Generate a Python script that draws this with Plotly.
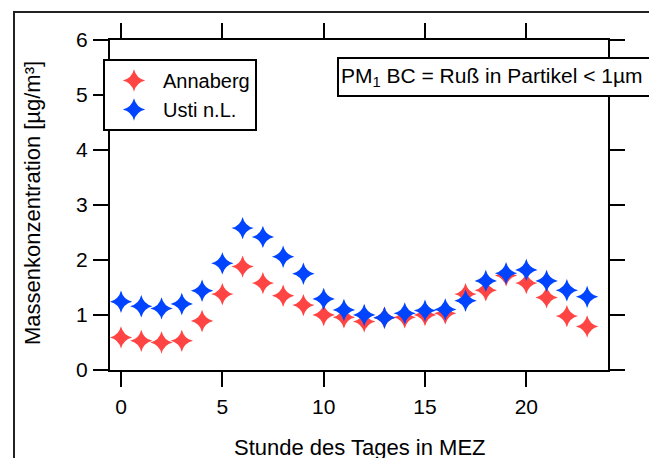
import plotly.graph_objects as go

hours = list(range(24))
annaberg = [0.59, 0.53, 0.50, 0.53, 0.89, 1.38, 1.88, 1.58, 1.35, 1.18, 1.00, 0.96,
            0.88, 0.95, 0.96, 1.00, 1.03, 1.38, 1.45, 1.72, 1.58, 1.32, 0.98, 0.79]
usti = [1.24, 1.16, 1.12, 1.20, 1.44, 1.94, 2.58, 2.42, 2.06, 1.75, 1.29, 1.09,
        1.00, 0.95, 1.03, 1.08, 1.10, 1.26, 1.62, 1.76, 1.82, 1.62, 1.45, 1.33]
x_ticks = [0, 5, 10, 15, 20]
y_ticks = [0, 1, 2, 3, 4, 5, 6]

# page body has an 8px margin; compensate so the figure fits the 657x458 window
OFF = 8
W, H = 657 - OFF, 458 - OFF
L, R, T, B = 110 - OFF, 49, 40 - OFF, 88
pw, ph = W - L - R, H - T - B

def px(xs):
    return (xs - OFF - L) / pw

def py(ys):
    return (H - B - (ys - OFF)) / ph

FONT = "Liberation Sans, Arial, sans-serif"

fig = go.Figure()
fig.add_trace(go.Scatter(x=hours, y=annaberg, mode="markers", name="Annaberg",
                         marker=dict(symbol="star-diamond", size=16, color="#FF4444")))
fig.add_trace(go.Scatter(x=hours, y=usti, mode="markers", name="Usti n.L.",
                         marker=dict(symbol="star-diamond", size=16, color="#0044FF")))

axis_common = dict(showgrid=False, zeroline=False, showline=True, linecolor="black",
                   linewidth=2, ticks="outside", ticklen=15, tickwidth=2,
                   tickcolor="black", mirror="ticks",
                   tickfont=dict(family=FONT, size=21, color="black"))
fig.update_xaxes(range=[-0.543, 24.03], tickvals=x_ticks, ticklabelstandoff=2, **axis_common)
fig.update_yaxes(range=[0, 6], tickvals=y_ticks, ticklabelstandoff=1, **axis_common)

fig.update_layout(
    width=W, height=H,
    margin=dict(l=L, r=R, t=T, b=B, pad=0),
    paper_bgcolor="white", plot_bgcolor="white",
    font=dict(family=FONT, size=22, color="black"),
    legend=dict(x=px(103), y=py(59), xanchor="left", yanchor="top",
                bordercolor="black", borderwidth=2, bgcolor="white",
                font=dict(family=FONT, size=20, color="black"),
                itemwidth=48, tracegroupgap=0),
    shapes=[dict(type="rect", xref="paper", yref="paper",
                 x0=px(14), x1=px(900), y0=py(900), y1=py(12),
                 line=dict(color="#222222", width=2))],
    annotations=[
        dict(text="Massenkonzentration [µg/m³]", xref="paper", yref="paper",
             x=px(32), y=py(203), xanchor="center", yanchor="middle",
             textangle=-90, showarrow=False, font=dict(family=FONT, size=22)),
        dict(text="Stunde des Tages in MEZ", xref="paper", yref="paper",
             x=px(360), y=py(447), xanchor="center", yanchor="middle",
             showarrow=False, font=dict(family=FONT, size=22)),
        dict(text="PM<sub>1</sub> BC = Ruß in Partikel &lt; 1µm", xref="paper", yref="paper",
             x=px(337), y=py(57), xanchor="left", yanchor="top", align="left",
             width=330, height=32, borderpad=2,
             bordercolor="black", borderwidth=2, bgcolor="white",
             showarrow=False, font=dict(family=FONT, size=21)),
    ],
)

fig.write_html("out.html")
